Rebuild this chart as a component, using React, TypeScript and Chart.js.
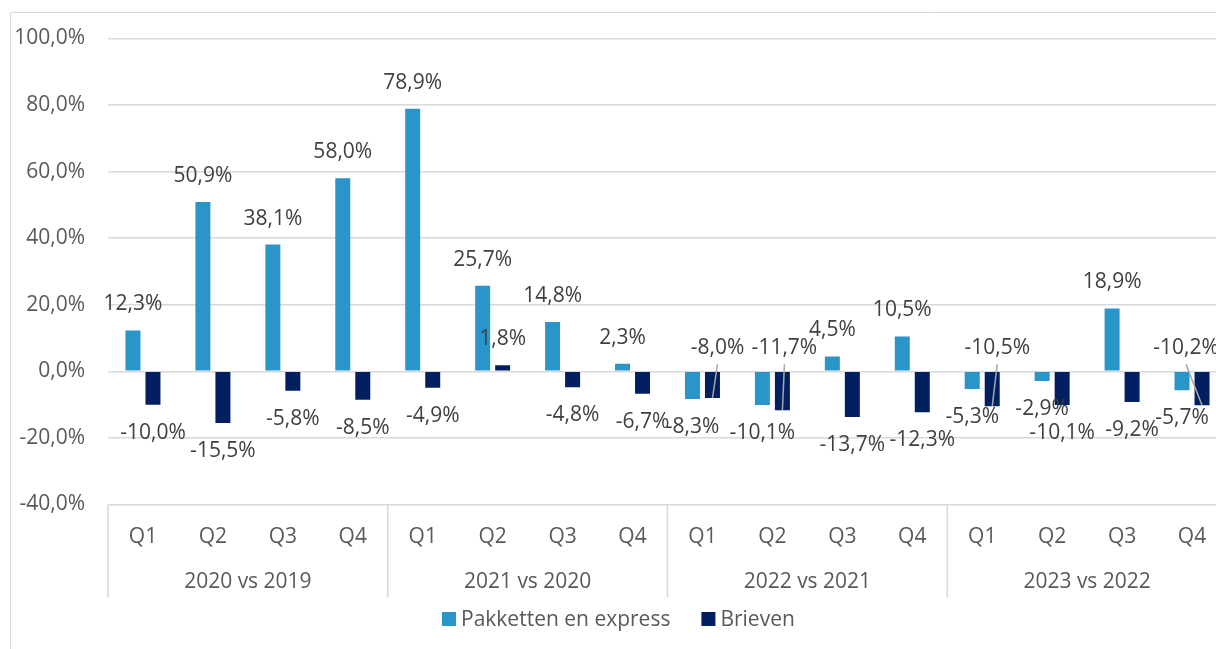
import React, { useEffect, useRef } from "react";
import { Chart, registerables } from "chart.js";

Chart.register(...registerables);

const quarters = ["Q1", "Q2", "Q3", "Q4", "Q1", "Q2", "Q3", "Q4", "Q1", "Q2", "Q3", "Q4", "Q1", "Q2", "Q3", "Q4"];
const groups = ["2020 vs 2019", "2021 vs 2020", "2022 vs 2021", "2023 vs 2022"];
const seriesNames = ["Pakketten en express", "Brieven"];
const pakketten = [12.3, 50.9, 38.1, 58.0, 78.9, 25.7, 14.8, 2.3, -8.3, -10.1, 4.5, 10.5, -5.3, -2.9, 18.9, -5.7];
const brieven = [-10.0, -15.5, -5.8, -8.5, -4.9, 1.8, -4.8, -6.7, -8.0, -11.7, -13.7, -12.3, -10.5, -10.1, -9.2, -10.2];
const yMin = -40;
const yMax = 100;
const yStep = 20;

// labels moved away from their bar (with a leader line): dataset index, point index, dx px, label y as axis value
const movedLabels = [
  { ds: 1, i: 8, dx: 5, at: 6.9 },
  { ds: 1, i: 9, dx: 2, at: 6.9 },
  { ds: 1, i: 12, dx: 5, at: 6.9 },
  { ds: 1, i: 15, dx: -16, at: 6.9 },
];

const COLORS = ["#2A95C8", "#022060"];
const FONT = "'Open Sans', sans-serif";
const FONT_SIZE = 21;
const CANVAS_W = 1240;
const CANVAS_H = 649;

const fmt = (v: number) => v.toFixed(1).replace(".", ",") + "%";

const drawPlugin = {
  id: "excelLook",
  beforeDraw(chart: any) {
    const ctx = chart.ctx;
    ctx.save();
    ctx.fillStyle = "#ffffff";
    ctx.fillRect(0, 0, chart.width, chart.height);
    ctx.strokeStyle = "#d9d9d9";
    ctx.lineWidth = 1;
    ctx.beginPath();
    ctx.moveTo(10.5, chart.height);
    ctx.lineTo(10.5, 12.5);
    ctx.lineTo(chart.width, 12.5);
    ctx.stroke();
    ctx.restore();
  },
  afterDatasetsDraw(chart: any) {
    const ctx = chart.ctx;
    const yScale = chart.scales.y;
    ctx.save();
    ctx.font = `${FONT_SIZE}px ${FONT}`;
    ctx.fillStyle = "#404040";
    ctx.textAlign = "center";
    ctx.textBaseline = "middle";
    chart.data.datasets.forEach((ds: any, d: number) => {
      const meta = chart.getDatasetMeta(d);
      meta.data.forEach((bar: any, i: number) => {
        const v = ds.data[i];
        const moved = movedLabels.find((m) => m.ds === d && m.i === i);
        if (moved) {
          const lx = bar.x + moved.dx;
          const ly = yScale.getPixelForValue(moved.at);
          ctx.strokeStyle = "#a6a6a6";
          ctx.lineWidth = 1.5;
          ctx.beginPath();
          ctx.moveTo(lx, ly + 16);
          ctx.lineTo(bar.x, bar.y);
          ctx.stroke();
          ctx.fillText(fmt(v), lx, ly);
        } else {
          const ly = v >= 0 ? bar.y - 26 : bar.y + 28;
          ctx.fillText(fmt(v), bar.x, ly);
        }
      });
    });
    ctx.restore();
  },
  afterDraw(chart: any) {
    const ctx = chart.ctx;
    const area = chart.chartArea;
    const xScale = chart.scales.x;
    const n = quarters.length;
    const catW = (area.right - area.left) / n;
    const perGroup = n / groups.length;
    ctx.save();
    // category box dividers
    ctx.strokeStyle = "#d9d9d9";
    ctx.lineWidth = 1.5;
    for (let g = 0; g <= groups.length; g++) {
      const x = area.left + g * perGroup * catW;
      ctx.beginPath();
      ctx.moveTo(x, area.bottom);
      ctx.lineTo(x, area.bottom + 93);
      ctx.stroke();
    }
    ctx.font = `${FONT_SIZE}px ${FONT}`;
    ctx.fillStyle = "#595959";
    ctx.textAlign = "center";
    ctx.textBaseline = "middle";
    quarters.forEach((q, i) => {
      ctx.fillText(q, xScale.getPixelForValue(i), area.bottom + 33);
    });
    groups.forEach((g, k) => {
      const cx = area.left + (k + 0.5) * perGroup * catW;
      ctx.fillText(g, cx, area.bottom + 78);
    });
    // legend
    const ly = 619;
    const box = 14;
    const gapBoxText = 5;
    const gapItems = 31;
    const widths = seriesNames.map((s) => ctx.measureText(s).width);
    const total = widths.reduce((a, w) => a + box + gapBoxText + w, 0) + gapItems * (seriesNames.length - 1);
    const center = (chart.width - 13 + 10) / 2;
    let x = Math.round(center - total / 2);
    ctx.textAlign = "left";
    seriesNames.forEach((s, k) => {
      ctx.fillStyle = COLORS[k];
      ctx.fillRect(x, ly - box / 2, box, box);
      ctx.fillStyle = "#595959";
      ctx.fillText(s, x + box + gapBoxText, ly + 1);
      x += box + gapBoxText + widths[k] + gapItems;
    });
    ctx.restore();
  },
};

export default function App() {
  const ref = useRef<HTMLCanvasElement | null>(null);
  useEffect(() => {
    if (!ref.current) return;
    const chart = new Chart(ref.current, {
      type: "bar",
      data: {
        labels: quarters.map((q, i) => `${groups[Math.floor(i / 4)]} ${q}`),
        datasets: [
          {
            label: seriesNames[0],
            data: pakketten,
            backgroundColor: COLORS[0],
            borderWidth: 0,
            categoryPercentage: 0.572,
            barPercentage: 0.75,
          },
          {
            label: seriesNames[1],
            data: brieven,
            backgroundColor: COLORS[1],
            borderWidth: 0,
            categoryPercentage: 0.572,
            barPercentage: 0.75,
          },
        ],
      },
      options: {
        responsive: false,
        animation: false,
        devicePixelRatio: 1,
        layout: { padding: { left: 0, top: 38.5, right: 13, bottom: 144.5 } },
        plugins: { legend: { display: false }, tooltip: { enabled: false } },
        scales: {
          x: { display: false, offset: true, grid: { display: false } },
          y: {
            min: yMin,
            max: yMax,
            afterFit: (s: any) => {
              s.width = 108;
            },
            border: { display: false },
            grid: { color: "#d9d9d9", lineWidth: 1.5, drawTicks: false },
            ticks: {
              stepSize: yStep,
              padding: 23,
              color: "#595959",
              font: { family: FONT, size: FONT_SIZE },
              callback: (v: any) => fmt(Number(v)),
            },
          },
        },
      },
      plugins: [drawPlugin],
    });
    return () => chart.destroy();
  }, []);
  return (
    <div style={{ position: "fixed", left: 0, top: 0, width: 1216, height: 649, overflow: "hidden", background: "#fff" }}>
      <canvas ref={ref} width={CANVAS_W} height={CANVAS_H} style={{ display: "block", width: CANVAS_W, height: CANVAS_H }} />
    </div>
  );
}
